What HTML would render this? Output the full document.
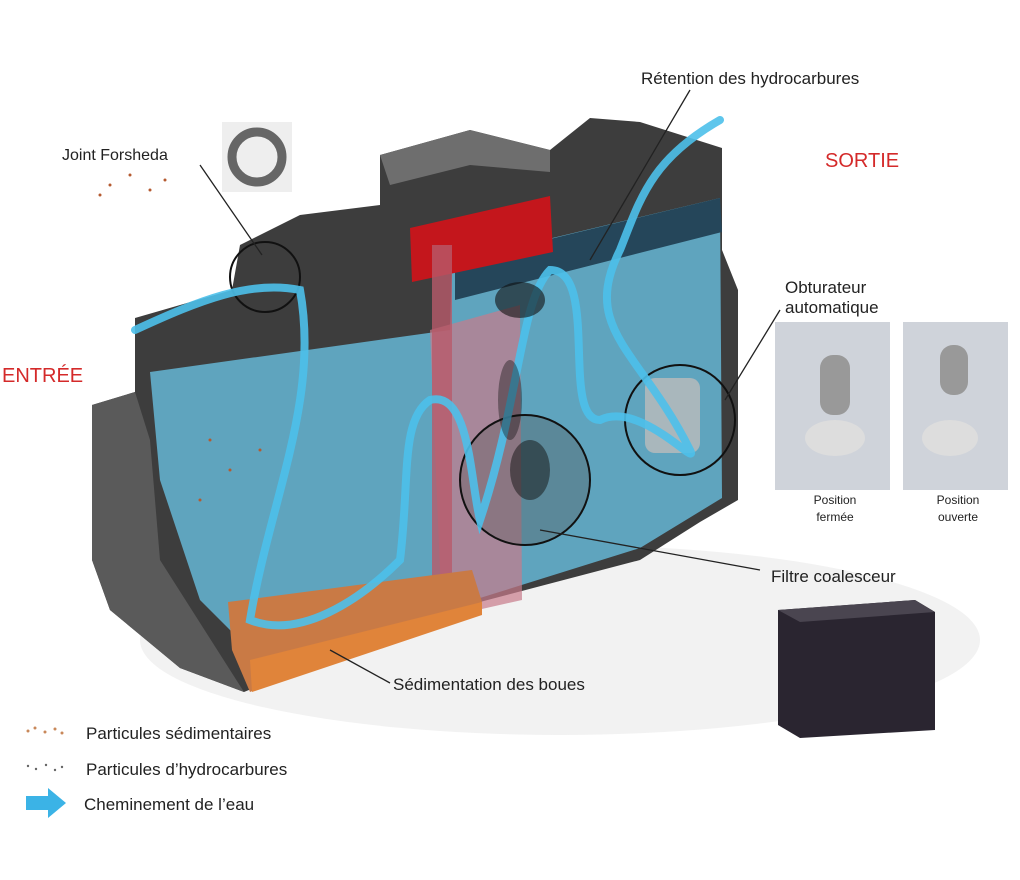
<!DOCTYPE html>
<html><head><meta charset="utf-8"><style>
html,body{margin:0;padding:0;background:#fff;}
svg{display:block;}
text{font-family:"Liberation Sans",sans-serif;fill:#222;}
</style></head><body>
<svg width="1020" height="880" viewBox="0 0 1020 880" xmlns="http://www.w3.org/2000/svg">
<rect width="1020" height="880" fill="#fff"/>
<ellipse cx="560" cy="640" rx="420" ry="95" fill="#efefef" opacity="0.8"/>
<polygon points="92,405 135,392 135,318 232,290 240,245 300,215 380,205 380,155 470,130 550,150 590,118 640,122 722,148 722,250 738,290 738,500 700,522 640,560 480,602 440,612 244,692 180,668 110,610 92,560" fill="#3d3d3d"/>
<polygon points="92,405 135,392 150,440 160,560 244,692 180,668 110,610 92,560" fill="#5a5a5a"/>
<polygon points="380,155 470,130 550,150 550,172 470,165 390,185" fill="#6e6e6e"/>
<polygon points="150,372 450,330 452,262 720,198 722,498 640,548 480,598 250,650 200,600 160,480" fill="#62adc9" opacity="0.92"/>
<polygon points="455,262 720,198 722,232 455,300" fill="#25465a"/>
<polygon points="430,330 520,305 522,600 442,618" fill="#c77a8a" opacity="0.7"/>
<polygon points="410,228 550,196 553,252 412,282" fill="#c4161c"/>
<rect x="432" y="245" width="20" height="360" fill="#b85a6a" opacity="0.8"/>
<polygon points="228,602 472,570 482,602 250,692 232,650" fill="#c97a45"/>
<polygon points="250,660 482,602 482,615 252,692" fill="#e0843a"/>
<circle cx="265" cy="277" r="35" fill="none" stroke="#111" stroke-width="2"/>
<circle cx="525" cy="480" r="65" fill="#555" fill-opacity="0.35" stroke="#111" stroke-width="2"/>
<circle cx="680" cy="420" r="55" fill="none" stroke="#111" stroke-width="2"/>
<rect x="645" y="378" width="55" height="75" rx="10" fill="#bbb" opacity="0.8"/>
<g fill="none" stroke="#4cc0ea" stroke-width="8" stroke-linecap="round" opacity="0.9">
<path d="M135,330 C200,300 250,280 300,290 C320,400 270,500 250,620 C300,640 360,600 400,560 C410,480 400,420 430,400 C470,390 470,480 480,520 C520,400 520,300 550,270 C600,270 560,420 600,420 C640,400 700,470 690,450 C640,350 580,330 620,250 C640,200 650,160 720,120"/>
</g>
<g fill="#111">
<ellipse cx="520" cy="300" rx="25" ry="18" opacity="0.6"/>
<ellipse cx="510" cy="400" rx="12" ry="40" opacity="0.4"/>
<ellipse cx="530" cy="470" rx="20" ry="30" opacity="0.5"/>
</g>
<g fill="#b55a30">
<circle cx="110" cy="185" r="1.5"/><circle cx="130" cy="175" r="1.5"/><circle cx="150" cy="190" r="1.5"/><circle cx="100" cy="195" r="1.5"/><circle cx="165" cy="180" r="1.5"/>
<circle cx="210" cy="440" r="1.5"/><circle cx="230" cy="470" r="1.5"/><circle cx="200" cy="500" r="1.5"/><circle cx="260" cy="450" r="1.5"/>
</g>
<rect x="222" y="122" width="70" height="70" fill="#eee"/>
<ellipse cx="257" cy="157" rx="25" ry="25" fill="none" stroke="#666" stroke-width="9"/>
<g stroke="#222" stroke-width="1.3" fill="none">
<line x1="200" y1="165" x2="262" y2="255"/>
<line x1="690" y1="90" x2="590" y2="260"/>
<line x1="780" y1="310" x2="725" y2="400"/>
<line x1="760" y1="570" x2="540" y2="530"/>
<line x1="390" y1="683" x2="330" y2="650"/>
</g>
<rect x="775" y="322" width="115" height="168" fill="#cfd3da"/>
<rect x="903" y="322" width="105" height="168" fill="#cfd3da"/>
<ellipse cx="835" cy="438" rx="30" ry="18" fill="#ddd"/><rect x="820" y="355" width="30" height="60" rx="13" fill="#999"/>
<ellipse cx="950" cy="438" rx="28" ry="18" fill="#ddd"/><rect x="940" y="345" width="28" height="50" rx="13" fill="#999"/>
<polygon points="778,610 915,600 935,612 935,730 800,738 778,725" fill="#2a2530"/>
<polygon points="778,610 915,600 935,612 800,622" fill="#4a4550"/>
<text x="641" y="84" font-size="17">Rétention des hydrocarbures</text>
<text x="62" y="160" font-size="16">Joint Forsheda</text>
<text x="825" y="167" font-size="20" style="fill:#d42a2a">SORTIE</text>
<text x="2" y="382" font-size="20" style="fill:#d42a2a">ENTRÉE</text>
<text x="785" y="293" font-size="17">Obturateur</text>
<text x="785" y="313" font-size="17">automatique</text>
<text x="835" y="504" font-size="12" text-anchor="middle">Position</text>
<text x="835" y="521" font-size="12" text-anchor="middle">fermée</text>
<text x="958" y="504" font-size="12" text-anchor="middle">Position</text>
<text x="958" y="521" font-size="12" text-anchor="middle">ouverte</text>
<text x="771" y="582" font-size="17">Filtre coalesceur</text>
<text x="393" y="690" font-size="17">Sédimentation des boues</text>
<text x="86" y="739" font-size="17">Particules sédimentaires</text>
<text x="86" y="775" font-size="17">Particules d’hydrocarbures</text>
<text x="84" y="810" font-size="17">Cheminement de l’eau</text>
<g fill="#c9885a"><circle cx="28" cy="731" r="1.5"/><circle cx="35" cy="728" r="1.5"/><circle cx="45" cy="732" r="1.5"/><circle cx="55" cy="729" r="1.5"/><circle cx="62" cy="733" r="1.5"/></g>
<g fill="#666"><circle cx="28" cy="766" r="1.2"/><circle cx="36" cy="769" r="1.2"/><circle cx="46" cy="765" r="1.2"/><circle cx="55" cy="770" r="1.2"/><circle cx="62" cy="767" r="1.2"/></g>
<polygon points="26,796 48,796 48,788 66,803 48,818 48,810 26,810" fill="#3bb3e6"/>
</svg>
</body></html>
